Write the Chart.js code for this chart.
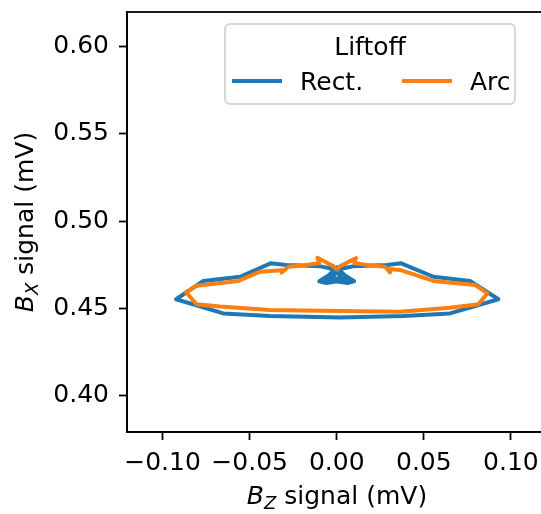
<!DOCTYPE html>
<html>
<head>
<meta charset="utf-8">
<title>Liftoff</title>
<script src="https://cdn.jsdelivr.net/npm/chart.js@4/dist/chart.umd.min.js"></script>
<style>
  html, body { margin: 0; padding: 0; background: #fff; overflow: hidden; }
  canvas { display: block; }
</style>
</head>
<body>
<canvas id="c" width="560" height="514"></canvas>
<script>
"use strict";

// Rectangular coil trace (Bz, Bx) in mV
const rectX = [0.000, -0.004, -0.010, -0.020, -0.029, -0.038, -0.0555, -0.0766, -0.0922,
  -0.0651, -0.0383, 0.0019, 0.0383, 0.0650, 0.0928, 0.0765, 0.0555, 0.0370, 0.0287,
  0.020, 0.010, 0.004, 0.000, -0.0045, -0.010, -0.006, 0.000, 0.006, 0.010, 0.0045,
  0.000, -0.003, -0.007, 0.007, 0.003, -0.003, 0.000, 0.003];
const rectY = [0.4700, 0.4730, 0.4742, 0.4745, 0.4748, 0.4758, 0.4681, 0.4657, 0.4552,
  0.4471, 0.4456, 0.4448, 0.4456, 0.4471, 0.4552, 0.4657, 0.4681, 0.4758, 0.4748,
  0.4745, 0.4742, 0.4730, 0.4735, 0.4690, 0.4655, 0.4645, 0.4655, 0.4645, 0.4655, 0.4690,
  0.4735, 0.4700, 0.4670, 0.4670, 0.4700, 0.4700, 0.4660, 0.4700];

// Arc coil trace
const arcX = [0.000, -0.0021, -0.0111, -0.010, -0.020, -0.0278, -0.0316, -0.030, -0.044,
  -0.0565, -0.0804, -0.0865, -0.0804, -0.067, -0.0383, 0.0019, 0.0363, 0.065, 0.0813,
  0.0865, 0.0794, 0.0555, 0.0363, 0.030, 0.0306, 0.0278, 0.020, 0.010, 0.0111, 0.0021, 0.000];
const arcY = [0.4720, 0.4743, 0.4790, 0.4760, 0.4745, 0.4739, 0.4705, 0.4720, 0.4710,
  0.4657, 0.4630, 0.4592, 0.4523, 0.4510, 0.4490, 0.4485, 0.4481, 0.4503, 0.4523,
  0.4586, 0.4634, 0.4657, 0.4720, 0.4725, 0.4705, 0.4739, 0.4745, 0.4760, 0.4788, 0.4743, 0.4720];

const xTicks = [-0.10, -0.05, 0.00, 0.05, 0.10];
const yTicks = [0.40, 0.45, 0.50, 0.55, 0.60];

const FONT = "DejaVu Sans";
const SIZE = 25;
const INK = "#000";
const BLUE = "#1f77b4";
const ORANGE = "#ff7f0e";

const toPoints = (xs, ys) => xs.map((x, i) => ({ x, y: ys[i] }));
const tickText = (v) => (v < 0 ? "\u2212" : "") + Math.abs(v).toFixed(2);

// text like "B_Z signal (mV)": italic B, smaller italic subscript, plain rest
function drawMath(ctx, parts, cx, cy, angle) {
  ctx.save();
  ctx.translate(cx, cy);
  ctx.rotate(angle);
  ctx.textAlign = "left";
  ctx.textBaseline = "alphabetic";
  ctx.fillStyle = INK;
  let total = 0;
  for (const p of parts) { ctx.font = p.font; total += ctx.measureText(p.text).width; }
  let x = -total / 2;
  for (const p of parts) {
    ctx.font = p.font;
    ctx.fillText(p.text, x, p.dy || 0);
    x += ctx.measureText(p.text).width;
  }
  ctx.restore();
}

const frame = {
  id: "frame",
  afterDraw(chart) {
    const { ctx, chartArea: a } = chart;
    ctx.save();
    ctx.strokeStyle = INK;
    ctx.lineWidth = 1.8;
    ctx.strokeRect(a.left, a.top, a.right - a.left, a.bottom - a.top);
    ctx.restore();

    const big = SIZE + "px '" + FONT + "'";
    const it = "italic " + SIZE + "px '" + FONT + "'";
    const sub = "italic 18px '" + FONT + "'";
    drawMath(ctx, [
      { text: "B", font: it },
      { text: "Z", font: sub, dy: 5 },
      { text: " signal (mV)", font: big },
    ], (a.left + a.right) / 2, 504, 0);
    drawMath(ctx, [
      { text: "B", font: it },
      { text: "X", font: sub, dy: 5 },
      { text: " signal (mV)", font: big },
    ], 33, (a.top + a.bottom) / 2, -Math.PI / 2);
  },
};

// legend with a title, inside the axes at upper right
const legendBox = {
  id: "legendBox",
  afterDraw(chart) {
    const { ctx } = chart;
    const box = { x: 225, y: 24, w: 290, h: 80 };
    ctx.save();
    ctx.beginPath();
    ctx.roundRect(box.x, box.y, box.w, box.h, 5);
    ctx.fillStyle = "rgba(255,255,255,0.8)";
    ctx.fill();
    ctx.strokeStyle = "#cccccc";
    ctx.lineWidth = 1.5;
    ctx.stroke();

    ctx.fillStyle = INK;
    ctx.font = SIZE + "px '" + FONT + "'";
    ctx.textAlign = "center";
    ctx.textBaseline = "alphabetic";
    ctx.fillText("Liftoff", box.x + box.w / 2, 55);

    const entries = [{ x: 232 }, { x: 402 }];
    ctx.textAlign = "left";
    chart.data.datasets.forEach((ds, i) => {
      const ex = entries[i].x;
      ctx.strokeStyle = ds.borderColor;
      ctx.lineWidth = 4;
      ctx.beginPath();
      ctx.moveTo(ex, 81);
      ctx.lineTo(ex + 50, 81);
      ctx.stroke();
      ctx.fillText(ds.label, ex + 68, 90);
    });
    ctx.restore();
  },
};

const axisCommon = (ticks) => ({
  type: "linear",
  afterBuildTicks(scale) { scale.ticks = ticks.map((v) => ({ value: v })); },
  grid: {
    display: true,
    drawOnChartArea: false,
    drawTicks: true,
    tickLength: 8,
    tickWidth: 1.8,
    tickColor: INK,
  },
  border: { display: true, color: INK, width: 1.8 },
  ticks: {
    color: INK,
    font: { family: FONT, size: SIZE },
    callback: (v) => tickText(v),
  },
});

const xAxis = axisCommon(xTicks);
xAxis.min = -0.1204;
xAxis.max = 0.1207;
xAxis.ticks.padding = 8;
xAxis.ticks.maxRotation = 0;
xAxis.afterFit = (scale) => {
  scale.height = 82;
  scale.paddingLeft = 0;
  scale.paddingRight = 0;
};

const yAxis = axisCommon(yTicks);
yAxis.min = 0.3791;
yAxis.max = 0.6199;
yAxis.ticks.padding = 10;
yAxis.afterFit = (scale) => {
  scale.width = 127;
  scale.paddingTop = 0;
  scale.paddingBottom = 0;
};

new Chart(document.getElementById("c"), {
  type: "scatter",
  data: {
    datasets: [
      {
        label: "Rect.",
        data: toPoints(rectX, rectY),
        borderColor: BLUE,
        backgroundColor: BLUE,
        order: 1,
      },
      {
        label: "Arc",
        data: toPoints(arcX, arcY),
        borderColor: ORANGE,
        backgroundColor: ORANGE,
        order: 0,
      },
    ],
  },
  options: {
    responsive: false,
    devicePixelRatio: 1,
    animation: false,
    layout: { padding: { top: 12, right: 13, left: 0, bottom: 0 } },
    datasets: {
      scatter: {
        showLine: true,
        pointRadius: 0,
        pointHoverRadius: 0,
        borderWidth: 4,
        borderJoinStyle: "round",
        tension: 0,
      },
    },
    plugins: {
      legend: { display: false },
      tooltip: { enabled: false },
    },
    scales: { x: xAxis, y: yAxis },
  },
  plugins: [frame, legendBox],
});
</script>
</body>
</html>
